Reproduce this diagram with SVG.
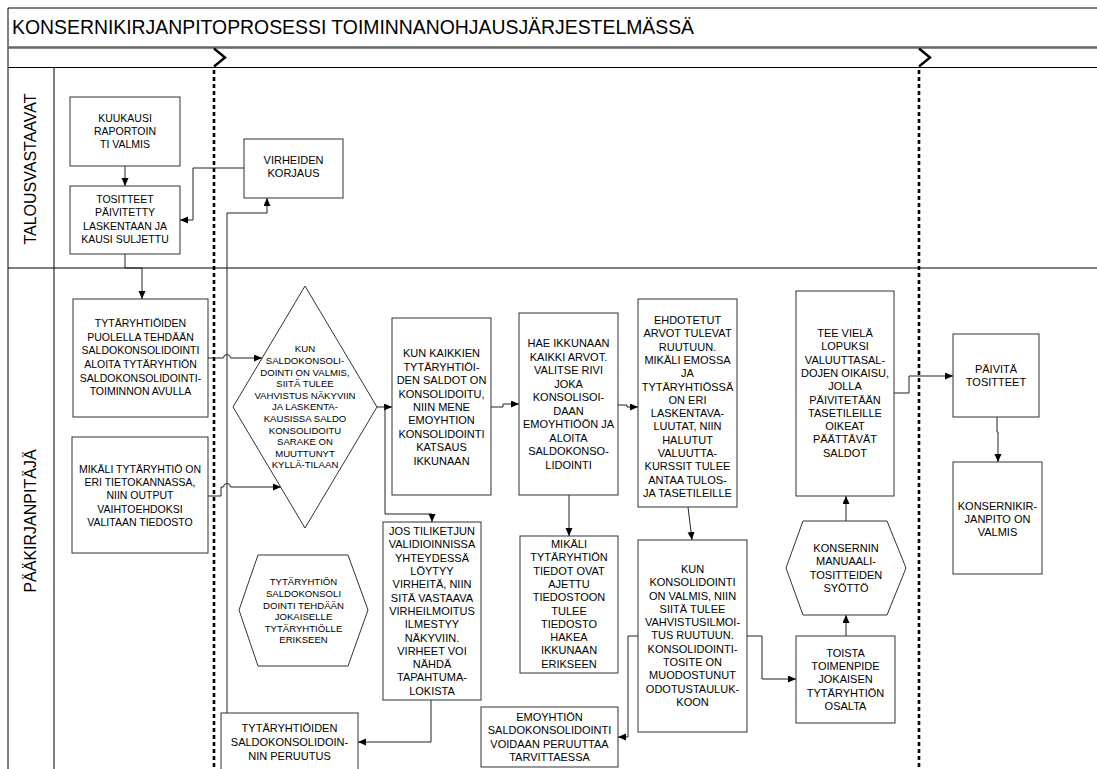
<svg xmlns="http://www.w3.org/2000/svg" width="1097" height="769" viewBox="0 0 1097 769">
<style>
.bx{fill:#fff;stroke:#333;stroke-width:1}
.t{font-family:"Liberation Sans",Arial,sans-serif;font-size:11px;fill:#000;text-anchor:middle}
.s{font-size:10.5px}
.xs{font-size:9.6px}
.ln{fill:none;stroke:#000;stroke-width:1}
.cn{fill:none;stroke:#222;stroke-width:1;marker-end:url(#ah)}
.cp{fill:none;stroke:#222;stroke-width:1}
.dot{fill:none;stroke:#000;stroke-width:2.6;stroke-dasharray:4 3}
.chev{fill:none;stroke:#000;stroke-width:2.4}
.lane{font-family:"Liberation Sans",Arial,sans-serif;font-size:16px;fill:#000;text-anchor:middle}
</style>
<defs>
<marker id="ah" markerUnits="userSpaceOnUse" markerWidth="9" markerHeight="8" refX="8" refY="3.5" orient="auto">
<path d="M0,0 L8,3.5 L0,7 z" fill="#000"/>
</marker>
</defs>
<rect width="1097" height="769" fill="#fff"/>
<g id="frame">
<path class="ln" d="M8,8 H1097 M8,67.5 H1097 M8,268 H1097 M8,8 V769 M54,68 V769"/>
<path d="M8,47.5 H1097" stroke="#666" stroke-width="2.5" fill="none"/>
<text x="12" y="34" font-family="Liberation Sans, Arial, sans-serif" font-size="19.4" fill="#000">KONSERNIKIRJANPITOPROSESSI TOIMINNANOHJAUSJÄRJESTELMÄSSÄ</text>
<text class="lane" transform="translate(36,169) rotate(-90)">TALOUSVASTAAVAT</text>
<text class="lane" transform="translate(36,521) rotate(-90)">PÄÄKIRJANPITÄJÄ</text>
<path class="chev" d="M214,48.5 L225,57.5 L214,66.5"/>
<path class="chev" d="M919,48.5 L930,57.5 L919,66.5"/>
<path class="dot" d="M214,70 V769"/>
<path class="dot" d="M919,70 V769"/>
</g>
<g id="connectors">
<path class="cn" d="M125,166 V186"/>
<path class="cn" d="M244,168 H193 V220 H180"/>
<path class="cn" d="M227,713 V213 H267 V198"/>
<path class="cn" d="M125,254 V268 H142 V299"/>
<path class="cn" d="M208,358 H223.5 a3.5,3.5 0 0 1 7,0 H262"/>
<path class="cn" d="M208,496 H221 V487 H223.5 a3.5,3.5 0 0 1 7,0 H281"/>
<path class="cn" d="M377,407 H392"/>
<path class="cn" d="M385,407 V514 H432 V522"/>
<path class="cn" d="M491,407 H503 V404 H519"/>
<path class="cn" d="M618,405 H627 V407 H638"/>
<path class="cn" d="M569,495 V536"/>
<path class="cn" d="M688,507 L692,540"/>
<path class="cn" d="M638,636 H628 V737 H618"/>
<path class="cn" d="M747,636 H762 V679 H796"/>
<path class="cn" d="M846,636 V615"/>
<path class="cn" d="M846,521 V496"/>
<path class="cn" d="M894,393 H909 V376 H953"/>
<path class="cn" d="M997,417 V432 H998 V462"/>
<path class="cn" d="M431,700 V742 H358"/>
</g>
<g id="n_kuukausi">
<rect class="bx" x="70" y="97" width="110" height="69"/>
<text class="t s"><tspan x="125" y="121.7">KUUKAUSI</tspan><tspan x="125" y="134.7">RAPORTOIN</tspan><tspan x="125" y="147.7">TI VALMIS</tspan></text>
</g>
<g id="n_tositteet">
<rect class="bx" x="70" y="186" width="110" height="68"/>
<text class="t s"><tspan x="125" y="202.5">TOSITTEET</tspan><tspan x="125" y="216">PÄIVITETTY</tspan><tspan x="125" y="229.5">LASKENTAAN JA</tspan><tspan x="125" y="243">KAUSI SULJETTU</tspan></text>
</g>
<g id="n_virheiden">
<rect class="bx" x="244" y="139" width="99" height="59"/>
<text class="t"><tspan x="293.5" y="163.8">VIRHEIDEN</tspan><tspan x="293.5" y="177.1">KORJAUS</tspan></text>
</g>
<g id="n_tytar">
<rect class="bx" x="73" y="299" width="135" height="118"/>
<text class="t s"><tspan x="140.5" y="327.2">TYTÄRYHTIÖIDEN</tspan><tspan x="140.5" y="340.8">PUOLELLA TEHDÄÄN</tspan><tspan x="140.5" y="354.4">SALDOKONSOLIDOINTI</tspan><tspan x="140.5" y="368">ALOITA TYTÄRYHTIÖN</tspan><tspan x="140.5" y="381.6">SALDOKONSOLIDOINTI-</tspan><tspan x="140.5" y="395.2">TOIMINNON AVULLA</tspan></text>
</g>
<g id="n_mikali1">
<rect class="bx" x="72" y="437" width="136" height="116"/>
<text class="t s"><tspan x="140" y="472.6">MIKÄLI TYTÄRYHTIÖ ON</tspan><tspan x="140" y="485.9">ERI TIETOKANNASSA,</tspan><tspan x="140" y="499.2">NIIN OUTPUT</tspan><tspan x="140" y="512.5">VAIHTOEHDOKSI</tspan><tspan x="140" y="525.8">VALITAAN TIEDOSTO</tspan></text>
</g>
<g id="n_diamond">
<polygon class="bx" points="305,286 377,407 305,528 233,407"/>
<text class="t xs"><tspan x="305" y="352.4">KUN</tspan><tspan x="305" y="364">SALDOKONSOLI-</tspan><tspan x="305" y="375.6">DOINTI ON VALMIS,</tspan><tspan x="305" y="387.2">SIITÄ TULEE</tspan><tspan x="305" y="398.8">VAHVISTUS NÄKYVIIN</tspan><tspan x="305" y="410.4">JA LASKENTA-</tspan><tspan x="305" y="422">KAUSISSA SALDO</tspan><tspan x="305" y="433.6">KONSOLIDOITU</tspan><tspan x="305" y="445.2">SARAKE ON</tspan><tspan x="305" y="456.8">MUUTTUNYT</tspan><tspan x="305" y="468.4">KYLLÄ-TILAAN</tspan></text>
</g>
<g id="n_hex_small">
<polygon class="bx" points="239,610 258,555 348,555 368,610 348,666 258,666"/>
<text class="t xs"><tspan x="303.5" y="585.4">TYTÄRYHTIÖN</tspan><tspan x="303.5" y="597">SALDOKONSOLI</tspan><tspan x="303.5" y="608.6">DOINTI TEHDÄÄN</tspan><tspan x="303.5" y="620.2">JOKAISELLE</tspan><tspan x="303.5" y="631.8">TYTÄRYHTIÖLLE</tspan><tspan x="303.5" y="643.4">ERIKSEEN</tspan></text>
</g>
<g id="n_kaikkien">
<rect class="bx" x="392" y="318" width="99" height="177"/>
<text class="t"><tspan x="441.5" y="357.3">KUN KAIKKIEN</tspan><tspan x="441.5" y="370.7">TYTÄRYHTIÖI-</tspan><tspan x="441.5" y="384.1">DEN SALDOT ON</tspan><tspan x="441.5" y="397.5">KONSOLIDOITU,</tspan><tspan x="441.5" y="410.9">NIIN MENE</tspan><tspan x="441.5" y="424.3">EMOYHTION</tspan><tspan x="441.5" y="437.7">KONSOLIDOINTI</tspan><tspan x="441.5" y="451.1">KATSAUS</tspan><tspan x="441.5" y="464.5">IKKUNAAN</tspan></text>
</g>
<g id="n_hae">
<rect class="bx" x="519" y="313" width="99" height="182"/>
<text class="t"><tspan x="568.5" y="347.2">HAE IKKUNAAN</tspan><tspan x="568.5" y="360.7">KAIKKI ARVOT.</tspan><tspan x="568.5" y="374.2">VALITSE RIVI</tspan><tspan x="568.5" y="387.7">JOKA</tspan><tspan x="568.5" y="401.2">KONSOLISOI-</tspan><tspan x="568.5" y="414.7">DAAN</tspan><tspan x="568.5" y="428.2">EMOYHTIÖÖN JA</tspan><tspan x="568.5" y="441.7">ALOITA</tspan><tspan x="568.5" y="455.2">SALDOKONSO-</tspan><tspan x="568.5" y="468.7">LIDOINTI</tspan></text>
</g>
<g id="n_ehdotetut">
<rect class="bx" x="638" y="299" width="99" height="208"/>
<text class="t"><tspan x="687.5" y="324">EHDOTETUT</tspan><tspan x="687.5" y="337.3">ARVOT TULEVAT</tspan><tspan x="687.5" y="350.6">RUUTUUN.</tspan><tspan x="687.5" y="363.9">MIKÄLI EMOSSA</tspan><tspan x="687.5" y="377.2">JA</tspan><tspan x="687.5" y="390.5">TYTÄRYHTIÖSSÄ</tspan><tspan x="687.5" y="403.8">ON ERI</tspan><tspan x="687.5" y="417.1">LASKENTAVA-</tspan><tspan x="687.5" y="430.4">LUUTAT, NIIN</tspan><tspan x="687.5" y="443.7">HALUTUT</tspan><tspan x="687.5" y="457">VALUUTTA-</tspan><tspan x="687.5" y="470.3">KURSSIT TULEE</tspan><tspan x="687.5" y="483.6">ANTAA TULOS-</tspan><tspan x="687.5" y="496.9">JA TASETILEILLE</tspan></text>
</g>
<g id="n_tee">
<rect class="bx" x="796" y="291" width="98" height="205"/>
<text class="t"><tspan x="845" y="337">TEE VIELÄ</tspan><tspan x="845" y="350.3">LOPUKSI</tspan><tspan x="845" y="363.6">VALUUTTASAL-</tspan><tspan x="845" y="376.9">DOJEN OIKAISU,</tspan><tspan x="845" y="390.2">JOLLA</tspan><tspan x="845" y="403.5">PÄIVITETÄÄN</tspan><tspan x="845" y="416.8">TASETILEILLE</tspan><tspan x="845" y="430.1">OIKEAT</tspan><tspan x="845" y="443.4">PÄÄTTÄVÄT</tspan><tspan x="845" y="456.7">SALDOT</tspan></text>
</g>
<g id="n_paivita">
<rect class="bx" x="953" y="334" width="86" height="83"/>
<text class="t"><tspan x="996" y="372.8">PÄIVITÄ</tspan><tspan x="996" y="386.1">TOSITTEET</tspan></text>
</g>
<g id="n_valmis">
<rect class="bx" x="953" y="462" width="89" height="112"/>
<text class="t"><tspan x="997.5" y="509.6">KONSERNIKIR-</tspan><tspan x="997.5" y="522.9">JANPITO ON</tspan><tspan x="997.5" y="536.2">VALMIS</tspan></text>
</g>
<g id="n_jos">
<rect class="bx" x="383" y="522" width="98" height="178"/>
<text class="t"><tspan x="432" y="535.1">JOS TILIKETJUN</tspan><tspan x="432" y="548.4">VALIDIOINNISSA</tspan><tspan x="432" y="561.7">YHTEYDESSÄ</tspan><tspan x="432" y="575">LÖYTYY</tspan><tspan x="432" y="588.3">VIRHEITÄ, NIIN</tspan><tspan x="432" y="601.6">SITÄ VASTAAVA</tspan><tspan x="432" y="614.9">VIRHEILMOITUS</tspan><tspan x="432" y="628.2">ILMESTYY</tspan><tspan x="432" y="641.5">NÄKYVIIN.</tspan><tspan x="432" y="654.8">VIRHEET VOI</tspan><tspan x="432" y="668.1">NÄHDÄ</tspan><tspan x="432" y="681.4">TAPAHTUMA-</tspan><tspan x="432" y="694.7">LOKISTA</tspan></text>
</g>
<g id="n_mikali2">
<rect class="bx" x="520" y="536" width="98" height="137"/>
<text class="t"><tspan x="569" y="548">MIKÄLI</tspan><tspan x="569" y="561.3">TYTÄRYHTIÖN</tspan><tspan x="569" y="574.6">TIEDOT OVAT</tspan><tspan x="569" y="587.9">AJETTU</tspan><tspan x="569" y="601.2">TIEDOSTOON</tspan><tspan x="569" y="614.5">TULEE</tspan><tspan x="569" y="627.8">TIEDOSTO</tspan><tspan x="569" y="641.1">HAKEA</tspan><tspan x="569" y="654.4">IKKUNAAN</tspan><tspan x="569" y="667.7">ERIKSEEN</tspan></text>
</g>
<g id="n_konsolidointi">
<rect class="bx" x="638" y="540" width="109" height="192"/>
<text class="t"><tspan x="692.5" y="572.9">KUN</tspan><tspan x="692.5" y="586.2">KONSOLIDOINTI</tspan><tspan x="692.5" y="599.5">ON VALMIS, NIIN</tspan><tspan x="692.5" y="612.8">SIITÄ TULEE</tspan><tspan x="692.5" y="626.1">VAHVISTUSILMOI-</tspan><tspan x="692.5" y="639.4">TUS RUUTUUN.</tspan><tspan x="692.5" y="652.7">KONSOLIDOINTI-</tspan><tspan x="692.5" y="666">TOSITE ON</tspan><tspan x="692.5" y="679.3">MUODOSTUNUT</tspan><tspan x="692.5" y="692.6">ODOTUSTAULUK-</tspan><tspan x="692.5" y="705.9">KOON</tspan></text>
</g>
<g id="n_toista">
<rect class="bx" x="796" y="636" width="99" height="87"/>
<text class="t"><tspan x="845.5" y="656.8">TOISTA</tspan><tspan x="845.5" y="670.1">TOIMENPIDE</tspan><tspan x="845.5" y="683.4">JOKAISEN</tspan><tspan x="845.5" y="696.7">TYTÄRYHTIÖN</tspan><tspan x="845.5" y="710">OSALTA</tspan></text>
</g>
<g id="n_manuaali">
<polygon class="bx" points="786,568 803,521 887,521 906,568 887,615 803,615"/>
<text class="t"><tspan x="846" y="552">KONSERNIN</tspan><tspan x="846" y="565.3">MANUAALI-</tspan><tspan x="846" y="578.6">TOSITTEIDEN</tspan><tspan x="846" y="591.9">SYÖTTÖ</tspan></text>
</g>
<g id="n_peruutus">
<rect class="bx" x="221" y="713" width="137" height="60"/>
<text class="t"><tspan x="289.5" y="731.9">TYTÄRYHTIÖIDEN</tspan><tspan x="289.5" y="745.9">SALDOKONSOLIDOIN-</tspan><tspan x="289.5" y="759.9">NIN PERUUTUS</tspan></text>
</g>
<g id="n_emo">
<rect class="bx" x="481" y="707" width="137" height="60"/>
<text class="t"><tspan x="549.5" y="721">EMOYHTIÖN</tspan><tspan x="549.5" y="734.3">SALDOKONSOLIDOINTI</tspan><tspan x="549.5" y="747.6">VOIDAAN PERUUTTAA</tspan><tspan x="549.5" y="760.9">TARVITTAESSA</tspan></text>
</g>
</svg>
